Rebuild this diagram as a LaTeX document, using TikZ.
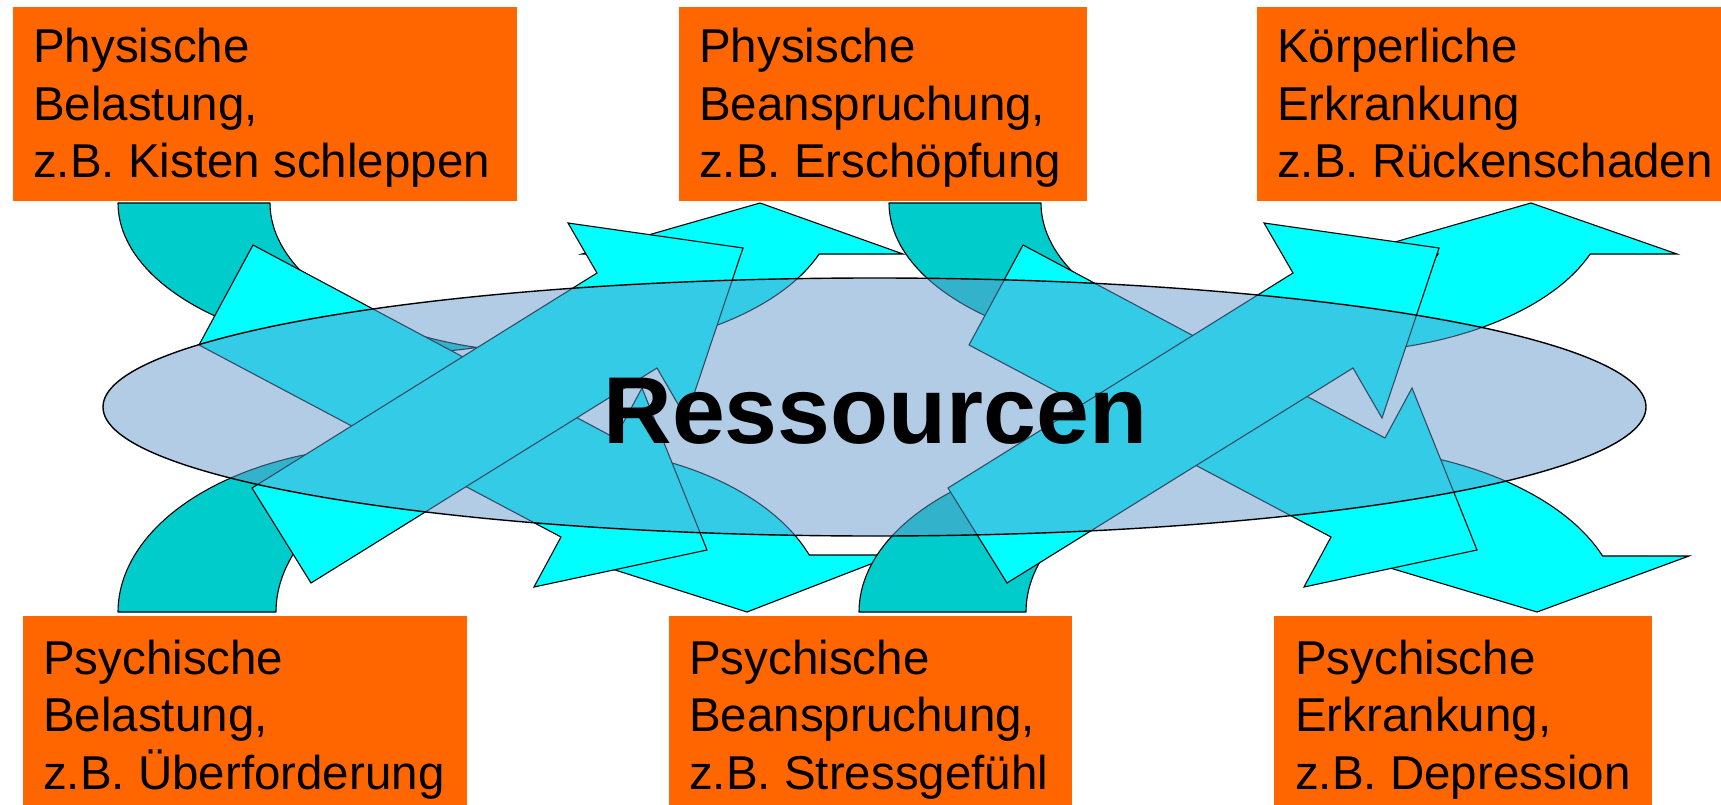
\documentclass[tikz,border=0pt]{standalone}
\usepackage{fontspec}
\setmainfont{Liberation Sans}
\definecolor{boxorange}{HTML}{FF6600}
\definecolor{bandteal}{HTML}{00CCCC}
\definecolor{bandcyan}{HTML}{00FFFF}
\definecolor{resblue}{HTML}{6699CC}
\tikzset{
  orangebox/.style={fill=boxorange, draw=none, inner sep=0pt, anchor=north west},
  lbl/.style={anchor=base west, inner sep=0pt, font=\fontsize{47.5}{57.5}\selectfont},
  backband/.style={fill=bandteal, draw=black, line width=1.1pt, line join=round},
  frontband/.style={fill=bandcyan, draw=black, line width=1.1pt, line join=miter},
  blockarrow/.style={fill=bandcyan, draw=black, line width=1.1pt, line join=miter},
  resell/.style={fill=resblue, fill opacity=0.5, draw=black, line width=1.4pt},
  restext/.style={anchor=base, inner sep=0pt, font=\fontsize{95}{100}\selectfont\bfseries},
  smp/.style={samples=60, variable=\t}
}
\begin{document}
\begin{tikzpicture}[x=1pt, y=-1pt]
\useasboundingbox (0,0) rectangle (1721,805);

% ---- curved arrows, top row (curved up) ----
% T1
\draw[backband] plot[smp, domain=180:74.42] ({401+283*cos(\t)},{203+150*sin(\t)})
  -- plot[smp, domain=105.58:180] ({553+283*cos(\t)},{203+150*sin(\t)}) -- cycle;
\draw[frontband] (760,203) -- (903,254)
  -- plot[smp, domain=19.88:105.58] ({553+283*cos(\t)},{203+150*sin(\t)})
  -- plot[smp, domain=74.42:19.88] ({401+283*cos(\t)},{203+150*sin(\t)})
  -- (582,254) -- cycle;
% T2
\draw[backband] plot[smp, domain=180:74.42] ({1172+283*cos(\t)},{203+150*sin(\t)})
  -- plot[smp, domain=105.58:180] ({1324+283*cos(\t)},{203+150*sin(\t)}) -- cycle;
\draw[frontband] (1531,203) -- (1677,254)
  -- plot[smp, domain=19.88:105.58] ({1324+283*cos(\t)},{203+150*sin(\t)})
  -- plot[smp, domain=74.42:19.88] ({1172+283*cos(\t)},{203+150*sin(\t)})
  -- (1353,254) -- cycle;

% ---- curved arrows, bottom row (curved down) ----
% B1
\draw[backband] plot[smp, domain=180:73.3] ({393+275*cos(\t)},{612-166*sin(\t)})
  -- plot[smp, domain=106.7:180] ({551+275*cos(\t)},{612-166*sin(\t)}) -- cycle;
\draw[frontband] (747,612) -- (894,555)
  -- plot[smp, domain=20.08:106.7] ({551+275*cos(\t)},{612-166*sin(\t)})
  -- plot[smp, domain=73.3:20.08] ({393+275*cos(\t)},{612-166*sin(\t)})
  -- (568,555) -- cycle;
% B2
\draw[backband] plot[smp, domain=180:73.67] ({1156+297*cos(\t)},{612-166*sin(\t)})
  -- plot[smp, domain=106.33:180] ({1323+297*cos(\t)},{612-166*sin(\t)}) -- cycle;
\draw[frontband] (1537,612) -- (1689,556)
  -- plot[smp, domain=19.72:106.33] ({1323+297*cos(\t)},{612-166*sin(\t)})
  -- plot[smp, domain=73.67:19.72] ({1156+297*cos(\t)},{612-166*sin(\t)})
  -- (1350,556) -- cycle;

% ---- straight block arrows ----
% A (down-right)
\draw[blockarrow] (253,245) -- (615,438) -- (642,388) -- (707,550) -- (534,587) -- (561,537) -- (199,345) -- cycle;
% B (up-right)
\draw[blockarrow] (252,488) -- (597,273) -- (568,223) -- (743,248) -- (686,418) -- (657,368) -- (311,583) -- cycle;
% C (down-right)
\draw[blockarrow] (1023,245) -- (1385,438) -- (1412,388) -- (1477,550) -- (1304,587) -- (1331,537) -- (969,345) -- cycle;
% D (up-right)
\draw[blockarrow] (948,488) -- (1293,273) -- (1264,223) -- (1439,248) -- (1382,418) -- (1353,368) -- (1007,583) -- cycle;

% ---- Ressourcen ellipse ----
\draw[resell] (874.5,407) ellipse [x radius=771.5, y radius=129];
\node[restext] (res) at (875.5,443) {Ressourcen};

% ---- boxes ----
\node[orangebox, minimum width=504pt, minimum height=194pt] (box1) at (13,7) {};
\node[lbl] (box1a) at (33,63) {Physische};
\node[lbl] (box1b) at (33,120.5) {Belastung,};
\node[lbl] (box1c) at (33,178) {z.B. Kisten schleppen};

\node[orangebox, minimum width=408pt, minimum height=194pt] (box2) at (679,7) {};
\node[lbl] (box2a) at (699,63) {Physische};
\node[lbl] (box2b) at (699,120.5) {Beanspruchung,};
\node[lbl] (box2c) at (699,178) {z.B. Erschöpfung};

\node[orangebox, minimum width=464pt, minimum height=194pt] (box3) at (1257,7) {};
\node[lbl] (box3a) at (1277,63) {Körperliche};
\node[lbl] (box3b) at (1277,120.5) {Erkrankung};
\node[lbl] (box3c) at (1277,178) {z.B. Rückenschaden};

\node[orangebox, minimum width=444pt, minimum height=189pt] (box4) at (23,616) {};
\node[lbl] (box4a) at (43,674) {Psychische};
\node[lbl] (box4b) at (43,731.5) {Belastung,};
\node[lbl] (box4c) at (43,789) {z.B. Überforderung};

\node[orangebox, minimum width=403pt, minimum height=189pt] (box5) at (669,616) {};
\node[lbl] (box5a) at (689,674) {Psychische};
\node[lbl] (box5b) at (689,731.5) {Beanspruchung,};
\node[lbl] (box5c) at (689,789) {z.B. Stressgefühl};

\node[orangebox, minimum width=378pt, minimum height=189pt] (box6) at (1274,616) {};
\node[lbl] (box6a) at (1295,674) {Psychische};
\node[lbl] (box6b) at (1295,731.5) {Erkrankung,};
\node[lbl] (box6c) at (1295,789) {z.B. Depression};
\end{tikzpicture}
\end{document}
